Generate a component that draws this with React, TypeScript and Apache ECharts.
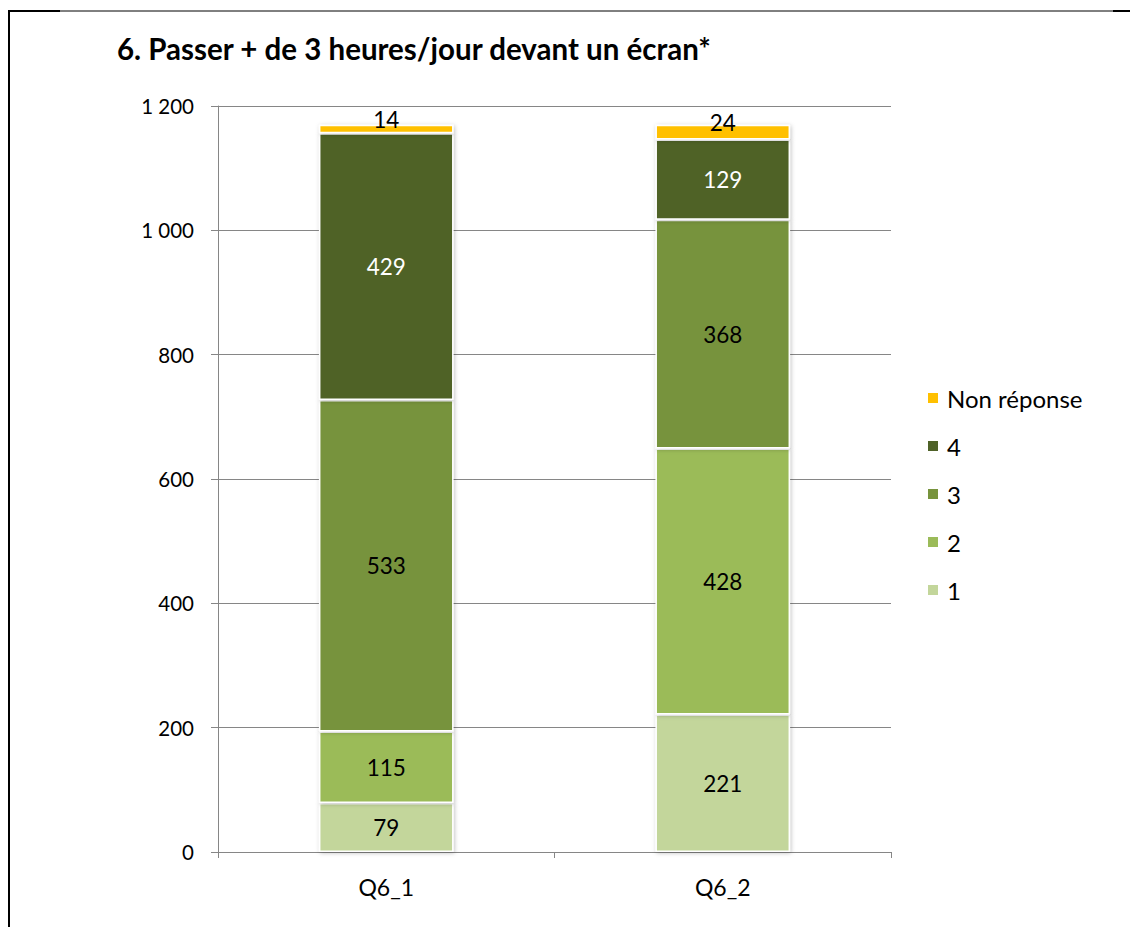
import React, { useEffect, useRef } from "react";
import * as echarts from "echarts";

const categories = ["Q6_1", "Q6_2"];
const seriesNames = ["1", "2", "3", "4", "Non réponse"];
const values1 = [79, 221];
const values2 = [115, 428];
const values3 = [533, 368];
const values4 = [429, 129];
const valuesNR = [14, 24];
const yTicks = [0, 200, 400, 600, 800, 1000, 1200];
const colors = ["#C3D69B", "#9BBB59", "#77933C", "#4F6228", "#FFC000"];
const labelColors = ["#000", "#000", "#000", "#fff", "#000"];

const FONT = "Lato, 'Open Sans', sans-serif";

export default function App() {
  const ref = useRef<HTMLDivElement>(null);
  useEffect(() => {
    document.body.style.margin = "0";
    const chart = echarts.init(ref.current!, null, { renderer: "svg" });
    const all = [values1, values2, values3, values4, valuesNR];
    chart.setOption({
      animation: false,
      backgroundColor: "#fff",
      textStyle: { fontFamily: FONT },
      title: {
        text: "6. Passer + de 3 heures/jour devant un écran*",
        left: 112,
        top: 28,
        textStyle: { fontFamily: FONT, fontWeight: "bold", fontSize: 29.5, color: "#000" },
      },
      legend: {
        orient: "vertical",
        left: 921,
        top: 379,
        itemWidth: 12,
        itemHeight: 12,
        itemGap: 20,
        icon: "rect",
        data: ["Non réponse", "4", "3", "2", "1"],
        textStyle: { fontFamily: FONT, fontSize: 24, color: "#000", lineHeight: 28, padding: [0, 0, 0, 3] },
      },
      grid: { left: 218, right: 239, top: 106, bottom: 75, containLabel: false },
      xAxis: {
        type: "category",
        data: categories,
        axisLine: { lineStyle: { color: "#868686", width: 1 } },
        axisTick: { show: true, length: 6, lineStyle: { color: "#868686" } },
        axisLabel: { fontFamily: FONT, fontSize: 23, color: "#000", margin: 23 },
      },
      yAxis: {
        type: "value",
        min: yTicks[0],
        max: yTicks[yTicks.length - 1],
        interval: 200,
        axisLine: { show: true, lineStyle: { color: "#868686", width: 1 } },
        axisTick: { show: true, length: 7, lineStyle: { color: "#868686" } },
        splitLine: { lineStyle: { color: "#868686", width: 1 } },
        axisLabel: {
          fontFamily: FONT,
          fontSize: 20.5,
          color: "#000",
          margin: 24,
          formatter: (v: number) => String(v).replace(/\B(?=(\d{3})+(?!\d))/g, " "),
        },
      },
      series: seriesNames.map((name, i) => ({
        name,
        type: "bar",
        stack: "total",
        data: all[i],
        barWidth: "40%",
        itemStyle: {
          color: colors[i],
          borderColor: "#fff",
          borderWidth: 1.5,
          shadowBlur: 4,
          shadowColor: "rgba(0,0,0,0.25)",
          shadowOffsetX: 1,
          shadowOffsetY: 1,
        },
        label: {
          show: true,
          position: "inside",
          offset: i === 4 ? [0, -10] : [0, 0],
          fontFamily: FONT,
          fontSize: 22.5,
          color: labelColors[i],
        },
      })),
      graphic: [
        { type: "line", shape: { x1: 8, y1: 11, x2: 1120, y2: 11 }, style: { stroke: "#000", lineWidth: 1 } },
        { type: "line", shape: { x1: 8, y1: 11, x2: 60, y2: 11 }, style: { stroke: "#000", lineWidth: 2 } },
        { type: "line", shape: { x1: 1113, y1: 11, x2: 1130, y2: 11 }, style: { stroke: "#000", lineWidth: 2 } },
        { type: "line", shape: { x1: 9, y1: 10, x2: 9, y2: 927 }, style: { stroke: "#000", lineWidth: 2 } },
      ],
    });
    return () => chart.dispose();
  }, []);
  return <div ref={ref} style={{ width: 1130, height: 927 }} />;
}
